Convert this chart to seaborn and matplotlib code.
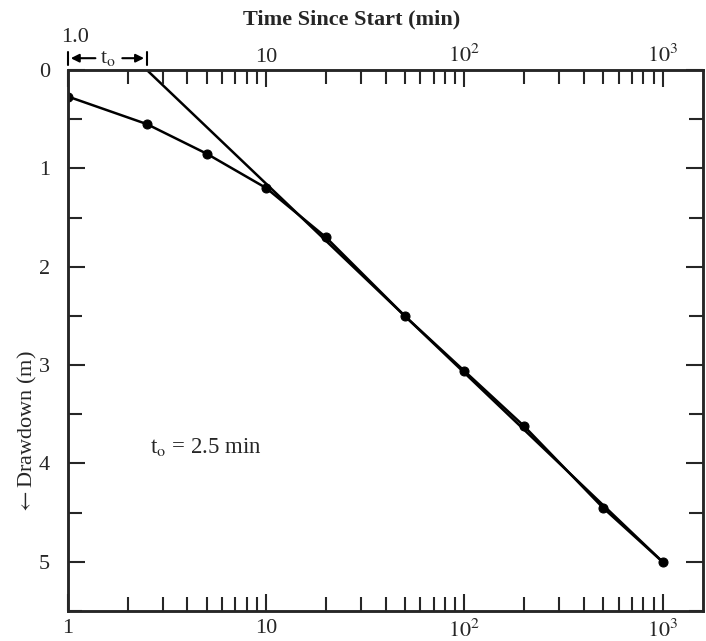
import numpy as np
import pandas as pd
import matplotlib
matplotlib.use("Agg")
import matplotlib.pyplot as plt
import seaborn as sns
from matplotlib.ticker import FixedLocator, LogLocator, NullFormatter, MultipleLocator

# measured drawdown data
time_min = [1, 2.5, 5, 10, 20, 50, 100, 200, 500, 1000]
drawdown_m = [0.27, 0.55, 0.85, 1.2, 1.7, 2.5, 3.06, 3.62, 4.45, 5.0]

# straight-line fit through the late data
fit_time = [2.5, 1000]
fit_drawdown = [0.0, 5.0]

x_ticks = [1, 10, 100, 1000]
x_labels = ["1", "10", "$10^2$", "$10^3$"]
top_labels = ["", "10", "$10^2$", "$10^3$"]
y_ticks = [0, 1, 2, 3, 4, 5]

sns.set_theme(style="ticks")
plt.rcParams["font.family"] = ["Liberation Serif", "DejaVu Serif"]
plt.rcParams["mathtext.fontset"] = "stix"

df = pd.DataFrame({"time": time_min, "drawdown": drawdown_m})
fit = pd.DataFrame({"time": fit_time, "drawdown": fit_drawdown})

fig = plt.figure(figsize=(7.06, 6.41), dpi=100)
ax = fig.add_axes([0.0963, 0.0468, 0.8995, 0.844])

sns.lineplot(data=df, x="time", y="drawdown", ax=ax, color="black", linewidth=1.8,
             marker="o", markersize=6.5, markeredgecolor="black", sort=False)
sns.lineplot(data=fit, x="time", y="drawdown", ax=ax, color="black", linewidth=1.8,
             sort=False)

ax.set_xscale("log")
ax.set_xlim(1, 1600)
ax.set_ylim(5.5, 0)

ax.xaxis.set_major_locator(FixedLocator(x_ticks))
ax.set_xticklabels(x_labels)
ax.xaxis.set_minor_locator(LogLocator(base=10, subs=np.arange(2, 10)))
ax.xaxis.set_minor_formatter(NullFormatter())
ax.set_yticks(y_ticks)
ax.yaxis.set_minor_locator(MultipleLocator(0.5))

ax.tick_params(axis="both", which="major", direction="in", length=12, width=1.5,
               labelsize=16, right=True, pad=6)
ax.tick_params(axis="y", which="major", pad=13)
ax.tick_params(axis="both", which="minor", direction="in", length=10, width=1.5,
               right=True)
ax.tick_params(axis="y", which="both", labelright=False)
for sp in ax.spines.values():
    sp.set_linewidth(1.8)
    sp.set_visible(True)

ax.set_xlabel("")
ax.set_ylabel("$\\leftarrow$Drawdown (m)", fontsize=16)
ax.yaxis.set_label_coords(-0.045, 0.33)

# top axis
ax2 = ax.twiny()
ax2.set_xscale("log")
ax2.set_xlim(ax.get_xlim())
ax2.xaxis.set_major_locator(FixedLocator(x_ticks))
ax2.set_xticklabels(top_labels)
ax2.xaxis.set_minor_locator(LogLocator(base=10, subs=np.arange(2, 10)))
ax2.xaxis.set_minor_formatter(NullFormatter())
ax2.tick_params(axis="x", which="major", direction="in", length=12, width=1.5,
                labelsize=16, pad=2)
ax2.tick_params(axis="x", which="minor", direction="in", length=10, width=1.5)
ax2.set_xlabel("Time Since Start (min)", fontsize=16, fontweight="bold", labelpad=14)
ax2.xaxis.set_label_coords(0.446, 1.085)
for sp in ax2.spines.values():
    sp.set_linewidth(1.8)

# t_o annotation above the top axis
ax.text(1.08, -0.33, "1.0", fontsize=16, ha="center", va="center", clip_on=False)
ax.text(1.6, -0.12, "t$_\\mathrm{o}$", fontsize=16, ha="center", va="center")
ax.annotate("", xy=(1.0, -0.12), xytext=(1.42, -0.12),
            arrowprops=dict(arrowstyle="-|>", color="black", lw=1.5),
            annotation_clip=False)
ax.annotate("", xy=(2.5, -0.12), xytext=(1.82, -0.12),
            arrowprops=dict(arrowstyle="-|>", color="black", lw=1.5),
            annotation_clip=False)
ax.plot([1, 1], [-0.18, -0.05], color="black", lw=1.5, clip_on=False)
ax.plot([2.5, 2.5], [-0.18, -0.05], color="black", lw=1.5, clip_on=False)

ax.text(2.6, 3.83, "t$_\\mathrm{o}$ = 2.5 min", fontsize=16.5, ha="left", va="center")

fig.savefig("out.png", dpi=100)
